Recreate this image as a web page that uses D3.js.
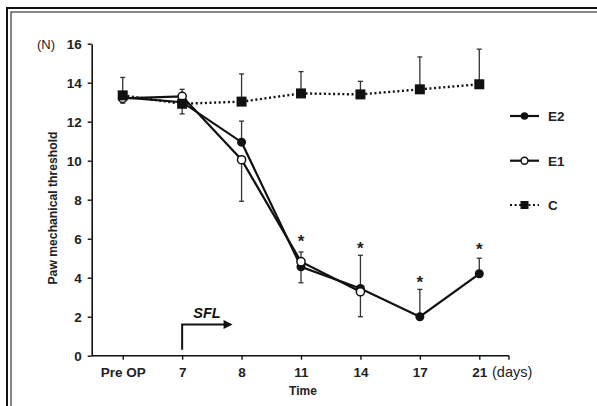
<!DOCTYPE html>
<html>
<head>
<meta charset="utf-8">
<script src="https://cdn.jsdelivr.net/npm/d3@7/dist/d3.min.js"></script>
<style>
  html, body { margin: 0; padding: 0; background: #fff; }
  svg { display: block; font-family: "Liberation Sans", Arial, sans-serif; }
</style>
</head>
<body>
<svg id="chart" width="597" height="406"></svg>
<script>
// ---- data ----
const categories = ["Pre OP", "7", "8", "11", "14", "17", "21"];
const yTicks = [0, 2, 4, 6, 8, 10, 12, 14, 16];
const seriesNames = ["E2", "E1", "C"];

const valuesE2 = [13.25, 13.0, 10.95, 4.56, 3.45, 2.0, 4.2];
const valuesE1 = [13.2, 13.3, 10.05, 4.82, 3.28, null, null];
const valuesC  = [13.35, 12.92, 13.03, 13.45, 13.4, 13.66, 13.92];

// error bars: positive = drawn upward, negative = drawn downward, 0 = none
const errE2 = [-0.3, 0, 1.08, -0.82, 1.7, 1.4, 0.8];
const errE1 = [0, 0.36, -2.13, 0.5, -1.28, 0, 0];
const errC  = [0.92, -0.52, 1.42, 1.12, 0.67, 1.66, 1.8];

// significance markers (category, height value)
const starCats = ["11", "14", "17", "21"];
const starVals = [6.1, 5.73, 4.02, 5.72];

// ---- layout ----
const FONT = "Liberation Sans, Arial, sans-serif";
const svg = d3.select("#chart");
const x = d3.scalePoint().domain(categories).range([93, 509]).padding(0.5);
const y = d3.scaleLinear().domain([0, 16]).range([355.7, 43.7]);

// frame (double border on top/left)
svg.append("rect").attr("x", 7).attr("y", 8).attr("width", 620).attr("height", 440)
  .attr("fill", "none").attr("stroke", "#111").attr("stroke-width", 2);
svg.append("rect").attr("x", 11).attr("y", 12).attr("width", 620).attr("height", 440)
  .attr("fill", "none").attr("stroke", "#111").attr("stroke-width", 1);

// y axis
const yAxis = svg.append("g").attr("transform", "translate(91.7,0)")
  .call(d3.axisLeft(y).tickValues(yTicks).tickSize(4).tickPadding(6).tickSizeOuter(0));
yAxis.select(".domain").attr("stroke", "#111").attr("stroke-width", 1.6);
yAxis.selectAll(".tick line").attr("stroke", "#111").attr("stroke-width", 1.4);
yAxis.selectAll(".tick text").attr("font-size", 13.5).attr("font-weight", "bold")
  .attr("fill", "#222").attr("font-family", FONT);

// x axis
const xAxisG = svg.append("g").attr("transform", "translate(0,355.7)");
xAxisG.append("line").attr("x1", 91.7).attr("x2", 509).attr("y1", 0).attr("y2", 0)
  .attr("stroke", "#111").attr("stroke-width", 1.6);
const xAxis = xAxisG.append("g")
  .call(d3.axisBottom(x).tickSize(4).tickPadding(8).tickSizeOuter(0));
xAxis.select(".domain").remove();
xAxis.selectAll(".tick line").attr("stroke", "#111").attr("stroke-width", 1.4);
xAxis.selectAll(".tick text").attr("font-size", 13.5).attr("font-weight", "bold")
  .attr("fill", "#222").attr("font-family", FONT);
xAxisG.append("line").attr("x1", 509).attr("x2", 509).attr("y1", 0).attr("y2", 4)
  .attr("stroke", "#111").attr("stroke-width", 1.4);

// axis labels
svg.append("text").attr("x", 55).attr("y", 48.5).attr("text-anchor", "end")
  .attr("font-size", 13).attr("fill", "#222").text("(N)");
svg.append("text").attr("x", 492).attr("y", 377)
  .attr("font-size", 14.5).attr("fill", "#222").text("(days)");
svg.append("text").attr("x", 303).attr("y", 395).attr("text-anchor", "middle")
  .attr("font-size", 12).attr("font-weight", "bold").attr("fill", "#222").text("Time");
svg.append("text").attr("transform", "translate(56.5,208) rotate(-90)")
  .attr("text-anchor", "middle").attr("font-size", 12.2).attr("font-weight", "bold")
  .attr("fill", "#222").text("Paw mechanical threshold");

// SFL arrow
const sflX = x("7");
svg.append("path")
  .attr("d", `M${sflX},${y(0) - 6} V${y(1.6)} H${x("8") - 14}`)
  .attr("fill", "none").attr("stroke", "#111").attr("stroke-width", 2);
svg.append("path")
  .attr("d", `M${x("8") - 9},${y(1.6)} l-9,-4.5 v9 z`).attr("fill", "#111");
svg.append("text").attr("x", 207).attr("y", 318).attr("text-anchor", "middle")
  .attr("font-size", 14.5).attr("font-weight", "bold").attr("font-style", "italic")
  .attr("fill", "#111").text("SFL");

// series drawing
const series = [
  { name: "C", vals: valuesC, err: errC, marker: "square", dash: "2,2.6" },
  { name: "E2", vals: valuesE2, err: errE2, marker: "filled", dash: null },
  { name: "E1", vals: valuesE1, err: errE1, marker: "open", dash: null }
];

const line = d3.line()
  .defined(d => d.v !== null)
  .x(d => x(d.c)).y(d => y(d.v));

// error bars
series.forEach(s => {
  const pts = categories.map((c, i) => ({ c, v: s.vals[i], e: s.err[i] }))
    .filter(d => d.v !== null && d.e !== 0);
  const g = svg.append("g").attr("stroke", "#333").attr("stroke-width", 1.3);
  pts.forEach(d => {
    const y1 = y(d.v), y2 = y(d.v + d.e);
    g.append("line").attr("x1", x(d.c)).attr("x2", x(d.c)).attr("y1", y1).attr("y2", y2);
    g.append("line").attr("x1", x(d.c) - 2.5).attr("x2", x(d.c) + 2.5).attr("y1", y2).attr("y2", y2);
  });
});

// lines
series.forEach(s => {
  const pts = categories.map((c, i) => ({ c, v: s.vals[i] }));
  svg.append("path").datum(pts).attr("d", line)
    .attr("fill", "none").attr("stroke", "#111")
    .attr("stroke-width", s.dash ? 2.4 : 2.2)
    .attr("stroke-dasharray", s.dash);
});

// markers
function drawMarker(g, type, cx, cy, size) {
  if (type === "square") {
    g.append("rect").attr("x", cx - size).attr("y", cy - size)
      .attr("width", size * 2).attr("height", size * 2).attr("fill", "#111");
  } else if (type === "filled") {
    g.append("circle").attr("cx", cx).attr("cy", cy).attr("r", size * 0.9).attr("fill", "#111");
  } else {
    g.append("circle").attr("cx", cx).attr("cy", cy).attr("r", size * 0.82)
      .attr("fill", "#fff").attr("stroke", "#111").attr("stroke-width", 1.5);
  }
}
// marker order: E2, E1, then C on top
[series[1], series[2], series[0]].forEach(s => {
  const g = svg.append("g");
  categories.forEach((c, i) => {
    if (s.vals[i] === null) return;
    drawMarker(g, s.marker, x(c), y(s.vals[i]), 5);
  });
});

// stars
starCats.forEach((c, i) => {
  svg.append("text").attr("x", x(c)).attr("y", y(starVals[i]) + 10.5)
    .attr("text-anchor", "middle").attr("font-size", 17).attr("font-weight", "bold")
    .attr("fill", "#222").text("*");
});

// legend
const legendY = [116, 160.7, 205];
const legendItems = [
  { name: "E2", marker: "filled", dash: null },
  { name: "E1", marker: "open", dash: null },
  { name: "C", marker: "square", dash: "2,2.6" }
];
legendItems.forEach((it, i) => {
  const g = svg.append("g");
  const ly = legendY[i];
  g.append("line").attr("x1", 510).attr("x2", 539).attr("y1", ly).attr("y2", ly)
    .attr("stroke", "#111").attr("stroke-width", 2.2).attr("stroke-dasharray", it.dash);
  drawMarker(g, it.marker, 524.5, ly, it.marker === "square" ? 4 : 4.2);
  g.append("text").attr("x", 548).attr("y", ly + 5)
    .attr("font-size", 13.5).attr("font-weight", "bold").attr("fill", "#222").text(it.name);
});
</script>
</body>
</html>
